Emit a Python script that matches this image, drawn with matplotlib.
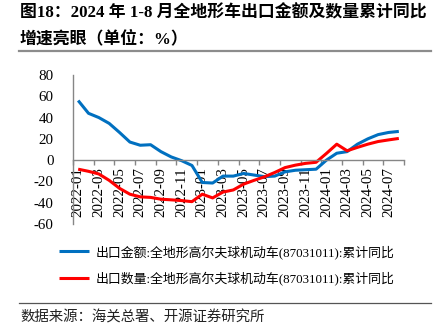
import matplotlib
matplotlib.use("Agg")
import matplotlib.pyplot as plt
from matplotlib.lines import Line2D

# 月份 2022-01 ~ 2024-08
months = [f"{y}-{m:02d}" for y in (2022, 2023, 2024) for m in range(1, 13)][:32]

# 出口金额 累计同比 (%)
amount = [56, 44, 40, 34.5, 26, 17, 14, 14.5, 8, 3, -0.5, -5,
          -21, -21.5, -15, -15, -12.5, -14, -15.5, -15, -11, -9.5, -9, -8.5,
          0, 6.5, 8, 15, 20, 24, 26, 27]
# 出口数量 累计同比 (%)
quantity = [-8.5, -10.5, -13, -19, -26.5, -32, -34.5, -35, -36.7, -37.3, -38, -39,
            -32, -35.5, -30, -28, -22.5, -19, -15.7, -11.6, -7, -4.7, -3, -2,
            6.3, 15, 8.8, 12, 15, 17.5, 19, 20.4]

legend_labels = ["出口金额:全地形高尔夫球机动车(87031011):累计同比",
                 "出口数量:全地形高尔夫球机动车(87031011):累计同比"]

serif_cjk = ["Liberation Serif", "Noto Sans CJK SC"]
W, H = 437, 336

fig = plt.figure(figsize=(W / 100, H / 100), dpi=100)
ax = fig.add_axes([73 / W, 1 - 224 / H, (404 - 73) / W, (224 - 75) / H])

x = list(range(len(months)))
l1, = ax.plot(x, amount, color="#0070C0", lw=2.2, solid_capstyle="butt")
l2, = ax.plot(x, quantity, color="#FF0000", lw=2.2, solid_capstyle="butt")

ax.set_xlim(-0.5, len(months) - 0.5)
ax.set_ylim(-60, 80)

for s in ("top", "right"):
    ax.spines[s].set_visible(False)
ax.spines["bottom"].set_position(("data", 0))
for s in ("left", "bottom"):
    ax.spines[s].set_color("#868686")
    ax.spines[s].set_linewidth(1.0)

# x 轴：刻度线在类别之间，标签每两个月
ax.set_xticks([i - 0.5 for i in range(0, len(months) + 1, 2)])
ax.set_xticklabels([])
ax.tick_params(axis="x", which="major", direction="out", length=3.5, color="#868686", width=1)
ax.set_xticks(x[::2], minor=True)
ax.set_xticklabels(months[::2], minor=True, rotation=90, fontsize=10.8,
                   family="Liberation Serif")
ax.tick_params(axis="x", which="minor", length=0, pad=5)

# y 轴
ax.set_yticks(range(-60, 81, 20))
ax.set_yticklabels([str(v) for v in range(-60, 81, 20)], fontsize=10.8, family="Liberation Serif")
ax.tick_params(axis="y", which="major", length=0, pad=14)
ax.set_yticks([-60, 80], minor=True)
ax.tick_params(axis="y", which="minor", direction="in", length=3.5, color="#868686", width=1)

# 图例
fig.legend([l1, l2], legend_labels, loc="upper left", bbox_to_anchor=(59 / W, 1 - 245 / H),
           frameon=False, handlelength=2.35, handletextpad=0.45, labelspacing=0.95,
           borderpad=0, borderaxespad=0,
           prop={"family": serif_cjk, "size": 9.3})

# 标题
fig.text(20 / W, 1 - 13 / H, "图18：2024 年 1-8 月全地形车出口金额及数量累计同比",
         fontsize=12.15, fontweight="bold", family=serif_cjk, va="center", ha="left")
fig.text(20 / W, 1 - 39 / H, "增速亮眼（单位：%）",
         fontsize=12.15, fontweight="bold", family=serif_cjk, va="center", ha="left")
fig.add_artist(Line2D([19 / W, 431 / W], [1 - 51 / H, 1 - 51 / H], color="#8c8c8c", lw=1.6,
                      transform=fig.transFigure))

# 数据来源
fig.add_artist(Line2D([19 / W, 431 / W], [1 - 302.5 / H, 1 - 302.5 / H], color="#555555", lw=0.9,
                      transform=fig.transFigure))
fig.text(20 / W, 1 - 317 / H, "数据来源：海关总署、开源证券研究所",
         fontsize=10.4, family="Noto Sans CJK SC", va="center", ha="left", color="#222222")

fig.savefig("out.png", dpi=100)
